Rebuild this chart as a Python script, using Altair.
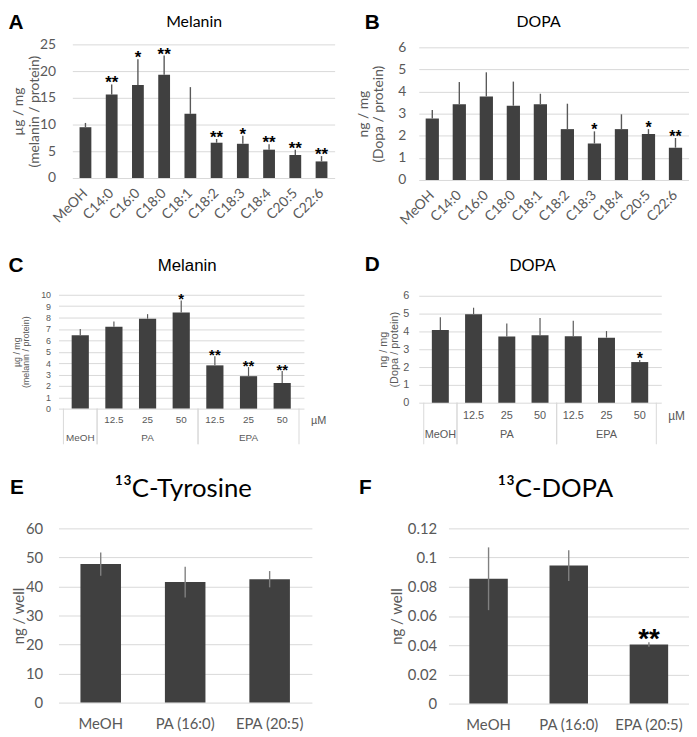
import altair as alt
import pandas as pd

# ---------------- data ----------------
A_CATS = ["MeOH", "C14:0", "C16:0", "C18:0", "C18:1", "C18:2", "C18:3", "C18:4", "C20:5", "C22:6"]
A_VALS = [9.5, 15.6, 17.4, 19.3, 12.0, 6.6, 6.4, 5.3, 4.3, 3.1]
A_ERRS = [0.8, 1.9, 4.8, 3.6, 5.0, 0.7, 1.5, 1.0, 1.0, 1.0]
A_SIG = ["", "**", "*", "**", "", "**", "*", "**", "**", "**"]

B_CATS = A_CATS
B_VALS = [2.78, 3.43, 3.78, 3.36, 3.43, 2.30, 1.65, 2.30, 2.08, 1.46]
B_ERRS = [0.39, 1.00, 1.09, 1.09, 0.47, 1.15, 0.55, 0.67, 0.22, 0.44]
B_SIG = ["", "", "", "", "", "", "*", "", "*", "**"]

CD_CATS = ["MeOH", "PA 12.5", "PA 25", "PA 50", "EPA 12.5", "EPA 25", "EPA 50"]
CD_GROUP = ["MeOH", "PA", "PA", "PA", "EPA", "EPA", "EPA"]
CD_CONC = ["", "12.5", "25", "50", "12.5", "25", "50"]
C_VALS = [6.45, 7.2, 7.9, 8.45, 3.8, 2.85, 2.25]
C_ERRS = [0.55, 0.45, 0.4, 1.05, 0.8, 0.8, 1.05]
C_SIG = ["", "", "", "*", "**", "**", "**"]
D_VALS = [4.08, 4.97, 3.72, 3.78, 3.73, 3.65, 2.28]
D_ERRS = [0.72, 0.36, 0.73, 0.97, 0.87, 0.37, 0.12]
D_SIG = ["", "", "", "", "", "", "*"]

EF_CATS = ["MeOH", "PA (16:0)", "EPA (20:5)"]
E_VALS = [47.7, 41.5, 42.5]
E_ERRS = [4.0, 5.3, 2.8]
E_SIG = ["", "", ""]
F_VALS = [0.0855, 0.0945, 0.0405]
F_ERRS = [0.0215, 0.0105, 0.0015]
F_SIG = ["", "", "**"]

BAR = "#404040"
GRID = "#d9d9d9"
TXT = "#595959"
SANS = "Liberation Sans"
CAL = "Lato"


def label(txt, x, y, font, size, weight="normal", color="#000000", align="center"):
    return alt.Chart(pd.DataFrame({"t": [txt]})).mark_text(
        font=font, fontSize=size, fontWeight=weight, color=color,
        align=align, baseline="alphabetic"
    ).encode(text="t:N", x=alt.value(x), y=alt.value(y))


def band_panel(cats, vals, errs, sig, w, h, xr, yr, yvals, pi, font, fsize, lpad,
               ytitle, tsz, tlh, tx_off, rotate, xpad, ecolor, symmetric, ssize, sdy,
               title, ttx, tty, ttsize, letter, lx, ly):
    df = pd.DataFrame({"cat": cats, "val": vals, "err": errs, "sig": sig})
    base = alt.Chart(df).transform_calculate(
        hi="datum.val + datum.err",
        lo=("datum.val - datum.err" if symmetric else "datum.val"),
    )
    if rotate:
        xaxis = alt.Axis(labelAngle=-45, labelAlign="right", labelBaseline="middle",
                         domain=False, ticks=False, labelFont=font, labelFontSize=fsize,
                         labelColor=TXT, labelPadding=xpad, title=None, grid=False)
    else:
        xaxis = alt.Axis(labelAngle=0, labelAlign="center", labelBaseline="top",
                         domain=False, ticks=False, labelFont=font, labelFontSize=fsize,
                         labelColor=TXT, labelPadding=xpad, title=None, grid=False)
    xs = alt.Scale(paddingInner=pi, paddingOuter=pi / 2, range=xr)
    x = alt.X("cat:N", sort=cats, scale=xs, axis=xaxis, title=None)
    ys = alt.Scale(domain=[yvals[0], yvals[-1]], nice=False, zero=True, range=yr)
    yaxis = alt.Axis(values=yvals, format=".2~f", grid=True, gridColor=GRID, gridWidth=1,
                     domain=False, ticks=False, labelFont=font, labelFontSize=fsize,
                     labelColor=TXT, labelPadding=lpad, labelOverlap=False, labelFlush=False,
                     offset=-xr[0],
                     title=ytitle, titleFont=font, titleFontSize=tsz, titleFontWeight="normal",
                     titleLineHeight=tlh,
                     titleColor=TXT, titleX=tx_off, titleY=(yr[0] + yr[1]) / 2,
                     titleAlign="center", titleBaseline="middle", titleAngle=270)
    bars = base.mark_bar(color=BAR).encode(
        x=x, y=alt.Y("val:Q", scale=ys, axis=yaxis, title=ytitle))
    ebar = base.mark_rule(color=ecolor, strokeWidth=1.4).encode(
        x=x, y=alt.Y("lo:Q", scale=ys, axis=yaxis, title=ytitle), y2="hi:Q")
    stars = base.mark_text(font=SANS, fontSize=ssize, fontWeight="bold", color="#000000",
                           baseline="alphabetic", dy=sdy).encode(
        x=x, y=alt.Y("hi:Q", scale=ys, axis=yaxis, title=ytitle), text="sig:N")
    t = label(title, ttx, tty, font, ttsize)
    l = label(letter, lx, ly, SANS, 21, weight="bold")
    return alt.layer(bars, ebar, stars, t, l).properties(width=w, height=h)


def table_panel(vals, errs, sig, w, h, yr, yvals, fsize, lpad, ytitle, tsz, tlh, tx_off,
                ssize, rowfs, r1, r2, sep, title, ttx, tty, letter, lx, ly):
    pb = yr[0]
    df = pd.DataFrame({"idx": list(range(len(CD_CATS))), "cat": CD_CATS, "grp": CD_GROUP,
                       "conc": CD_CONC, "val": vals, "err": errs, "sig": sig})
    base = alt.Chart(df).transform_calculate(hi="datum.val + datum.err")
    xs = alt.Scale(domain=[-0.5, len(CD_CATS) - 0.5], nice=False, zero=False)
    x = alt.X("idx:Q", scale=xs, axis=None)
    ys = alt.Scale(domain=[yvals[0], yvals[-1]], nice=False, zero=True, range=yr)
    yaxis = alt.Axis(values=yvals, grid=True, gridColor=GRID, gridWidth=1,
                     domain=False, ticks=False, labelFont=SANS, labelFontSize=fsize,
                     labelColor=TXT, labelPadding=lpad, labelOverlap=False, labelFlush=False,
                     title=ytitle, titleFont=SANS, titleFontSize=tsz, titleFontWeight="normal",
                     titleLineHeight=tlh,
                     titleColor=TXT, titleX=tx_off, titleY=(yr[0] + yr[1]) / 2,
                     titleAlign="center", titleBaseline="middle", titleAngle=270)
    bw = w / len(CD_CATS) * 0.49
    bars = base.mark_bar(color=BAR, size=bw).encode(
        x=x, y=alt.Y("val:Q", scale=ys, axis=yaxis, title=ytitle))
    ebar = base.mark_rule(color=TXT, strokeWidth=1.2).encode(
        x=x, y=alt.Y("val:Q", scale=ys, axis=yaxis, title=ytitle), y2="hi:Q")
    stars = base.mark_text(font=SANS, fontSize=ssize, fontWeight="bold", color="#000000",
                           baseline="alphabetic", dy=4).encode(
        x=x, y=alt.Y("hi:Q", scale=ys, axis=yaxis, title=ytitle), text="sig:N")
    conc = base.mark_text(font=SANS, fontSize=rowfs, color=TXT, baseline="middle").encode(
        x=x, y=alt.value(pb + r1), text="conc:N")
    grp = alt.Chart(df).transform_aggregate(
        c="mean(idx)", lo="min(idx)", hi="max(idx)", groupby=["grp"]
    ).transform_calculate(left="datum.lo - 0.5", right="datum.hi + 0.5")
    glabel = grp.mark_text(font=SANS, fontSize=rowfs, color=TXT, baseline="middle").encode(
        x=alt.X("c:Q", scale=xs, axis=None), y=alt.value(pb + r2), text="grp:N")
    sep1 = grp.mark_rule(color=GRID, strokeWidth=1).encode(
        x=alt.X("left:Q", scale=xs, axis=None), y=alt.value(pb), y2=alt.value(pb + sep))
    sep2 = grp.mark_rule(color=GRID, strokeWidth=1).encode(
        x=alt.X("right:Q", scale=xs, axis=None), y=alt.value(pb), y2=alt.value(pb + sep))
    unit = label("µM", w + 7, pb + r1 + 4, SANS, rowfs + 1, color=TXT, align="left")
    t = label(title, ttx, tty, SANS, 17)
    l = label(letter, lx, ly, SANS, 21, weight="bold")
    return alt.layer(sep1, sep2, bars, ebar, stars, conc, glabel, unit,
                     t, l).properties(width=w, height=h)


panel_a = band_panel(A_CATS, A_VALS, A_ERRS, A_SIG, 279, 135, [14, 279], [135, 0],
                     [0, 5, 10, 15, 20, 25], 0.55, CAL, 14, 17,
                     ["µg / mg", "(melanin / protein)"], 14, 16, -54, True, 13,
                     TXT, False, 17, 4, "Melanin", 137, -18, 16, "A", -43, -16)
panel_b = band_panel(B_CATS, B_VALS, B_ERRS, B_SIG, 273, 137, [0, 273], [137, 3],
                     [0, 1, 2, 3, 4, 5, 6], 0.51, CAL, 14, 13,
                     ["ng / mg", "(Dopa / protein)"], 14, 15, -56, True, 13,
                     TXT, False, 16, 4, "DOPA", 121, -18, 16, "B", -47, -16)
panel_c = table_panel(C_VALS, C_ERRS, C_SIG, 248, 120, [115, 0], list(range(0, 11)), 9, 8,
                      ["µg / mg", "(melanin / protein)"], 9, 9, -42, 15,
                      10, 12, 30, 36, "Melanin", 130, -24, "C", -43, -23)
panel_d = table_panel(D_VALS, D_ERRS, D_SIG, 245, 120, [109, 1], list(range(0, 7)), 11, 10,
                      ["ng / mg", "(Dopa / protein)"], 11, 12, -36, 16,
                      11, 13, 33, 42, "DOPA", 115, -24, "D", -47, -24)
panel_e = band_panel(EF_CATS, E_VALS, E_ERRS, E_SIG, 256, 176, [0, 256], [176, 0],
                     [0, 10, 20, 30, 40, 50, 60], 0.52, CAL, 15, 16,
                     "ng / well", 15, 15, -40, False, 14,
                     "#808080", True, 26, 5, "¹³C-Tyrosine", 126, -32, 26, "E", -42, -35)
panel_f = band_panel(EF_CATS, F_VALS, F_ERRS, F_SIG, 273, 177, [30, 273], [177, 0],
                     [0, 0.02, 0.04, 0.06, 0.08, 0.1, 0.12], 0.52, CAL, 15, 12,
                     "ng / well", 15, 15, -52, False, 14,
                     "#808080", True, 28, 6, "¹³C-DOPA", 138, -32, 26, "F", -54, -35)

chart = alt.concat(panel_a, panel_b, panel_c, panel_d, panel_e, panel_f,
                   columns=2, spacing={"row": 116, "column": 85},
                   bounds="flush", align="each").properties(
    padding=0
).configure_view(stroke=None).configure_axis(labelLimit=0)

chart.save("out.html", embed_options={"renderer": "svg", "actions": False})
